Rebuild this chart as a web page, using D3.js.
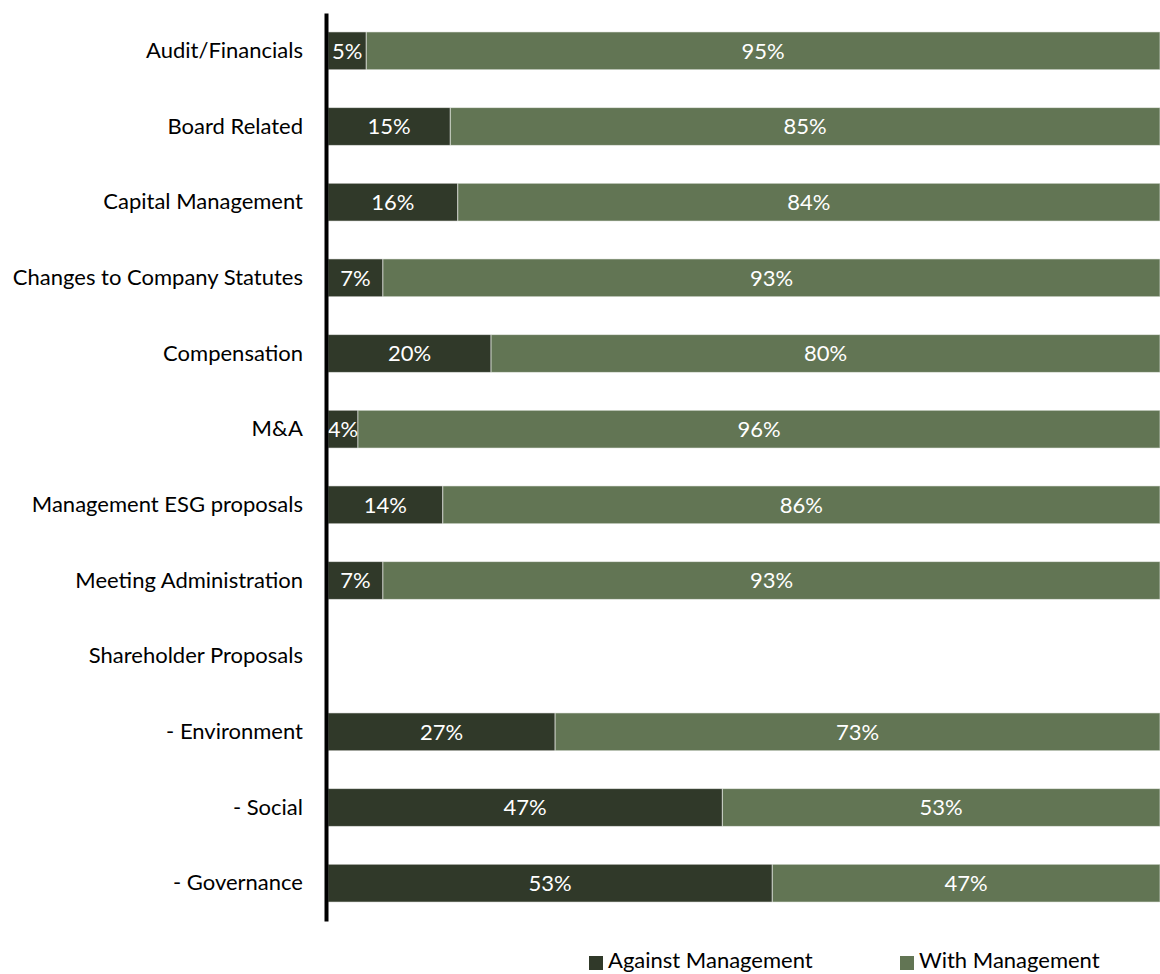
<!DOCTYPE html>
<html>
<head>
<meta charset="utf-8">
<script src="https://cdn.jsdelivr.net/npm/d3@7"></script>
<style>
  html, body { margin: 0; padding: 0; background: #fff; }
  svg { display: block; }
  text { font-family: Lato, "Open Sans", sans-serif; }
</style>
</head>
<body>
<svg id="chart" width="1160" height="974"></svg>
<script>
const categories = [
  "Audit/Financials",
  "Board Related",
  "Capital Management",
  "Changes to Company Statutes",
  "Compensation",
  "M&A",
  "Management ESG proposals",
  "Meeting Administration",
  "Shareholder Proposals",
  "- Environment",
  "- Social",
  "- Governance"
];
const againstMgmt = [4.6, 14.7, 15.6, 6.6, 19.6, 3.6, 13.8, 6.6, null, 27.3, 47.4, 53.4];
const withMgmt    = [95.4, 85.3, 84.4, 93.4, 80.4, 96.4, 86.2, 93.4, null, 72.7, 52.6, 46.6];
const seriesNames = ["Against Management", "With Management"];
const seriesColors = ["#303929", "#627554"];

const svg = d3.select("#chart");

const y = d3.scaleBand()
  .domain(categories)
  .range([13, 921])
  .paddingInner(0.5)
  .paddingOuter(0.25);

const x = d3.scaleLinear()
  .domain([0, 100])
  .range([328, 1160]);

const rows = categories.map((c, i) => ({
  cat: c,
  against: againstMgmt[i],
  with: withMgmt[i]
})).filter(d => d.against != null);

const stacked = d3.stack().keys(["against", "with"])(rows);

const fmt = v => Math.round(v) + "%";

const g = svg.append("g");
stacked.forEach((layer, li) => {
  const lg = g.append("g");
  lg.selectAll("rect")
    .data(layer)
    .join("rect")
    .attr("x", d => x(d[0]))
    .attr("y", d => y(d.data.cat))
    .attr("width", d => x(d[1]) - x(d[0]))
    .attr("height", y.bandwidth())
    .attr("fill", seriesColors[li])
    .attr("stroke", "#ffffff")
    .attr("stroke-opacity", 0.55)
    .attr("stroke-width", 1);
  lg.selectAll("text")
    .data(layer)
    .join("text")
    .attr("x", d => (x(d[0]) + x(d[1])) / 2)
    .attr("y", d => y(d.data.cat) + y.bandwidth() / 2)
    .attr("dy", "0.35em")
    .attr("text-anchor", "middle")
    .attr("fill", "#ffffff")
    .attr("font-size", 22)
    .text(d => fmt(d[1] - d[0]));
});

// y axis
const axis = d3.axisLeft(y).tickSize(0).tickSizeOuter(0).tickPadding(23);
const ag = svg.append("g")
  .attr("transform", "translate(326,0)")
  .call(axis);
ag.select(".domain").attr("stroke", "#000").attr("stroke-width", 4);
ag.selectAll(".tick text")
  .attr("fill", "#000")
  .attr("font-size", 22)
  .attr("font-family", "Lato, 'Open Sans', sans-serif");

// legend
const legendX = [589, 900];
const leg = svg.append("g");
seriesNames.forEach((name, i) => {
  leg.append("rect")
    .attr("x", legendX[i])
    .attr("y", 956)
    .attr("width", 14)
    .attr("height", 14)
    .attr("fill", seriesColors[i]);
  leg.append("text")
    .attr("x", legendX[i] + 19)
    .attr("y", 968)
    .attr("font-size", 22)
    .attr("fill", "#000")
    .text(name);
});
</script>
</body>
</html>
